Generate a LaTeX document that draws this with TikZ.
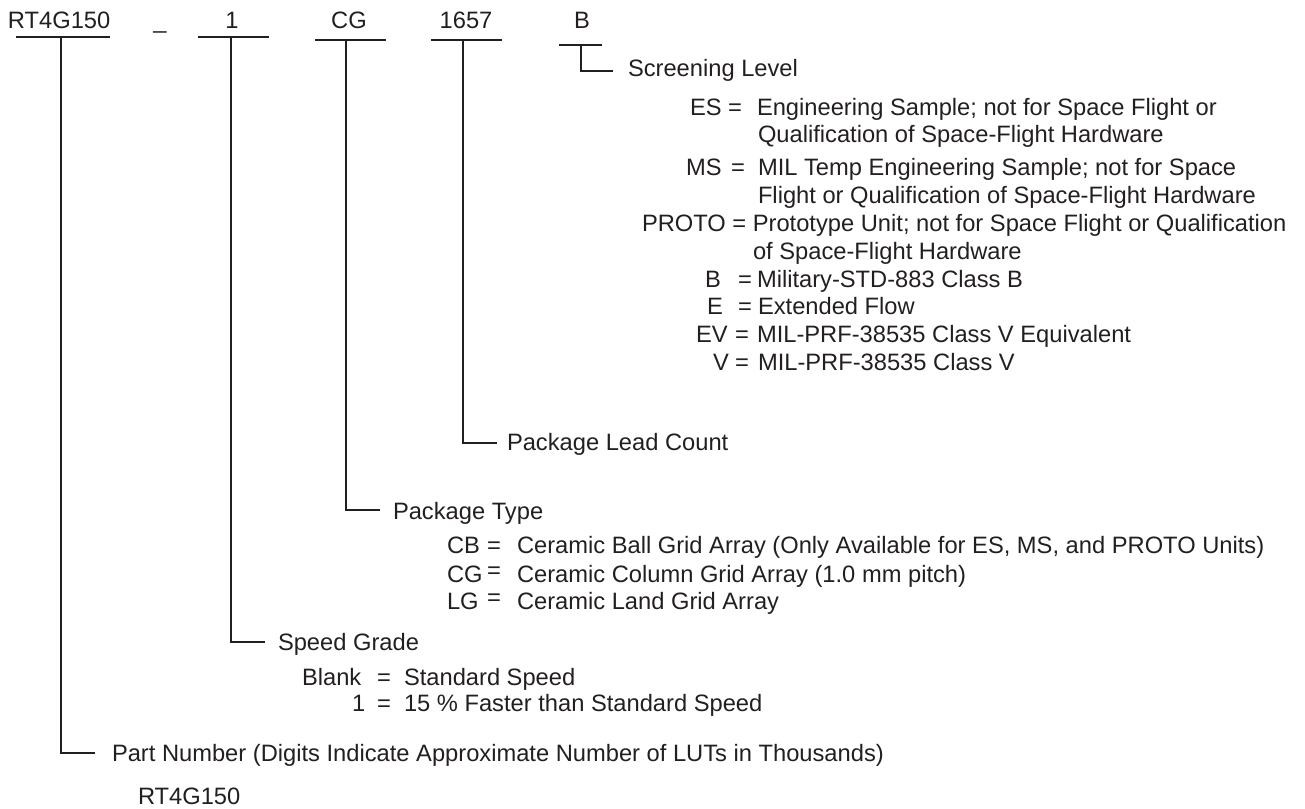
\documentclass[tikz,border=0pt]{standalone}
\usepackage{fontspec}
\setmainfont{Liberation Sans}
\definecolor{ink}{HTML}{231F20}
\begin{document}
\begin{tikzpicture}[x=1pt,y=-1pt,
  font=\fontsize{23.7}{28}\selectfont,
  every node/.style={inner sep=0pt, outer sep=0pt, text=ink},
  txt/.style={anchor=base west},
  code/.style={anchor=base},
  conn/.style={draw=ink, line width=2.2pt}]
\useasboundingbox (0,0) rectangle (1305,808);

% ---- top codes ----
\node[txt]  (rt) at (8,29)   {RT4G150};
\node[code] (us) at (160,29) {\_};
\node[code] (c1) at (232,29) {1};
\node[code] (cg) at (349,29) {CG};
\node[code] (lc) at (466,29) {1657};
\node[code] (sl) at (582,29) {B};

% bars
\coordinate (rtL) at (16,37);  \coordinate (rtR) at (110,37);
\coordinate (c1L) at (198,37); \coordinate (c1R) at (269,37);
\coordinate (cgL) at (315,40); \coordinate (cgR) at (386,40);
\coordinate (lcL) at (431,40); \coordinate (lcR) at (502,40);
\coordinate (slL) at (559,45); \coordinate (slR) at (602,45);
\draw[conn] (rtL) -- (rtR);
\draw[conn] (c1L) -- (c1R);
\draw[conn] (cgL) -- (cgR);
\draw[conn] (lcL) -- (lcR);
\draw[conn] (slL) -- (slR);

% connector tops and ends
\coordinate (rtT) at (61,37);   \coordinate (rtE) at (95,753);
\coordinate (c1T) at (231,37);  \coordinate (c1E) at (265,642);
\coordinate (cgT) at (346,40);  \coordinate (cgE) at (380,510);
\coordinate (lcT) at (463,40);  \coordinate (lcE) at (497,443);
\coordinate (slT) at (581,45);  \coordinate (slE) at (613,71);
\draw[conn] (rtT) |- (rtE);
\draw[conn] (c1T) |- (c1E);
\draw[conn] (cgT) |- (cgE);
\draw[conn] (lcT) |- (lcE);
\draw[conn] (slT) |- (slE);

% ---- Screening level ----
\node[txt] (slh) at (628,77) {Screening Level};
\node[txt] (esk) at (690,115) {ES};
\node[txt] (esq) at (728,115) {=};
\node[txt] (esv) at (757,115) {Engineering Sample; not for Space Flight or};
\node[txt] (esv2) at (758,142) {Qualification of Space-Flight Hardware};
\node[txt] (msk) at (686,175) {MS};
\node[txt] (msq) at (731,175) {=};
\node[txt] (msv) at (758,175) {MIL Temp Engineering Sample; not for Space};
\node[txt] (msv2) at (758,203) {Flight or Qualification of Space-Flight Hardware};
\node[txt] (prk) at (642,231) {PROTO = Prototype Unit; not for Space Flight or Qualification};
\node[txt] (prv2) at (753,259) {of Space-Flight Hardware};
\node[txt] (bk) at (705,287) {B};
\node[txt] (bq) at (738,287) {=};
\node[txt] (bv) at (757,287) {Military-STD-883 Class B};
\node[txt] (ek) at (707,314) {E};
\node[txt] (eq) at (738,314) {=};
\node[txt] (ev) at (758,314) {Extended Flow};
\node[txt] (evk) at (696,342) {EV};
\node[txt] (evq) at (735,342) {=};
\node[txt] (evv) at (757,342) {MIL-PRF-38535 Class V Equivalent};
\node[txt] (vk) at (713,370) {V};
\node[txt] (vq) at (735,370) {=};
\node[txt] (vv) at (758,370) {MIL-PRF-38535 Class V};

% ---- Package lead count ----
\node[txt] (lch) at (507,450) {Package Lead Count};

% ---- Package type ----
\node[txt] (pth) at (393,519) {Package Type};
\node[txt] (cbk) at (447,553) {CB};
\node[txt] (cbq) at (487,553) {=};
\node[txt] (cbv) at (517,553) {Ceramic Ball Grid Array (Only Available for ES, MS, and PROTO Units)};
\node[txt] (cgk) at (447,582) {CG};
\node[txt] (cgq) at (487,578) {=};
\node[txt] (cgv) at (517,582) {Ceramic Column Grid Array (1.0 mm pitch)};
\node[txt] (lgk) at (447,609) {LG};
\node[txt] (lgq) at (487,605) {=};
\node[txt] (lgv) at (517,609) {Ceramic Land Grid Array};

% ---- Speed grade ----
\node[txt] (sgh) at (278,650) {Speed Grade};
\node[txt] (blk) at (302,685) {Blank};
\node[txt] (blq) at (377,685) {=};
\node[txt] (blv) at (404,685) {Standard Speed};
\node[txt] (onk) at (352,711) {1};
\node[txt] (onq) at (377,711) {=};
\node[txt] (onv) at (404,711) {15 \% Faster than Standard Speed};

% ---- Part number ----
\node[txt] (pnh) at (112,761) {Part Number (Digits Indicate Approximate Number of LUTs in Thousands)};
\node[txt] (pnv) at (138,804) {RT4G150};
\end{tikzpicture}
\end{document}
